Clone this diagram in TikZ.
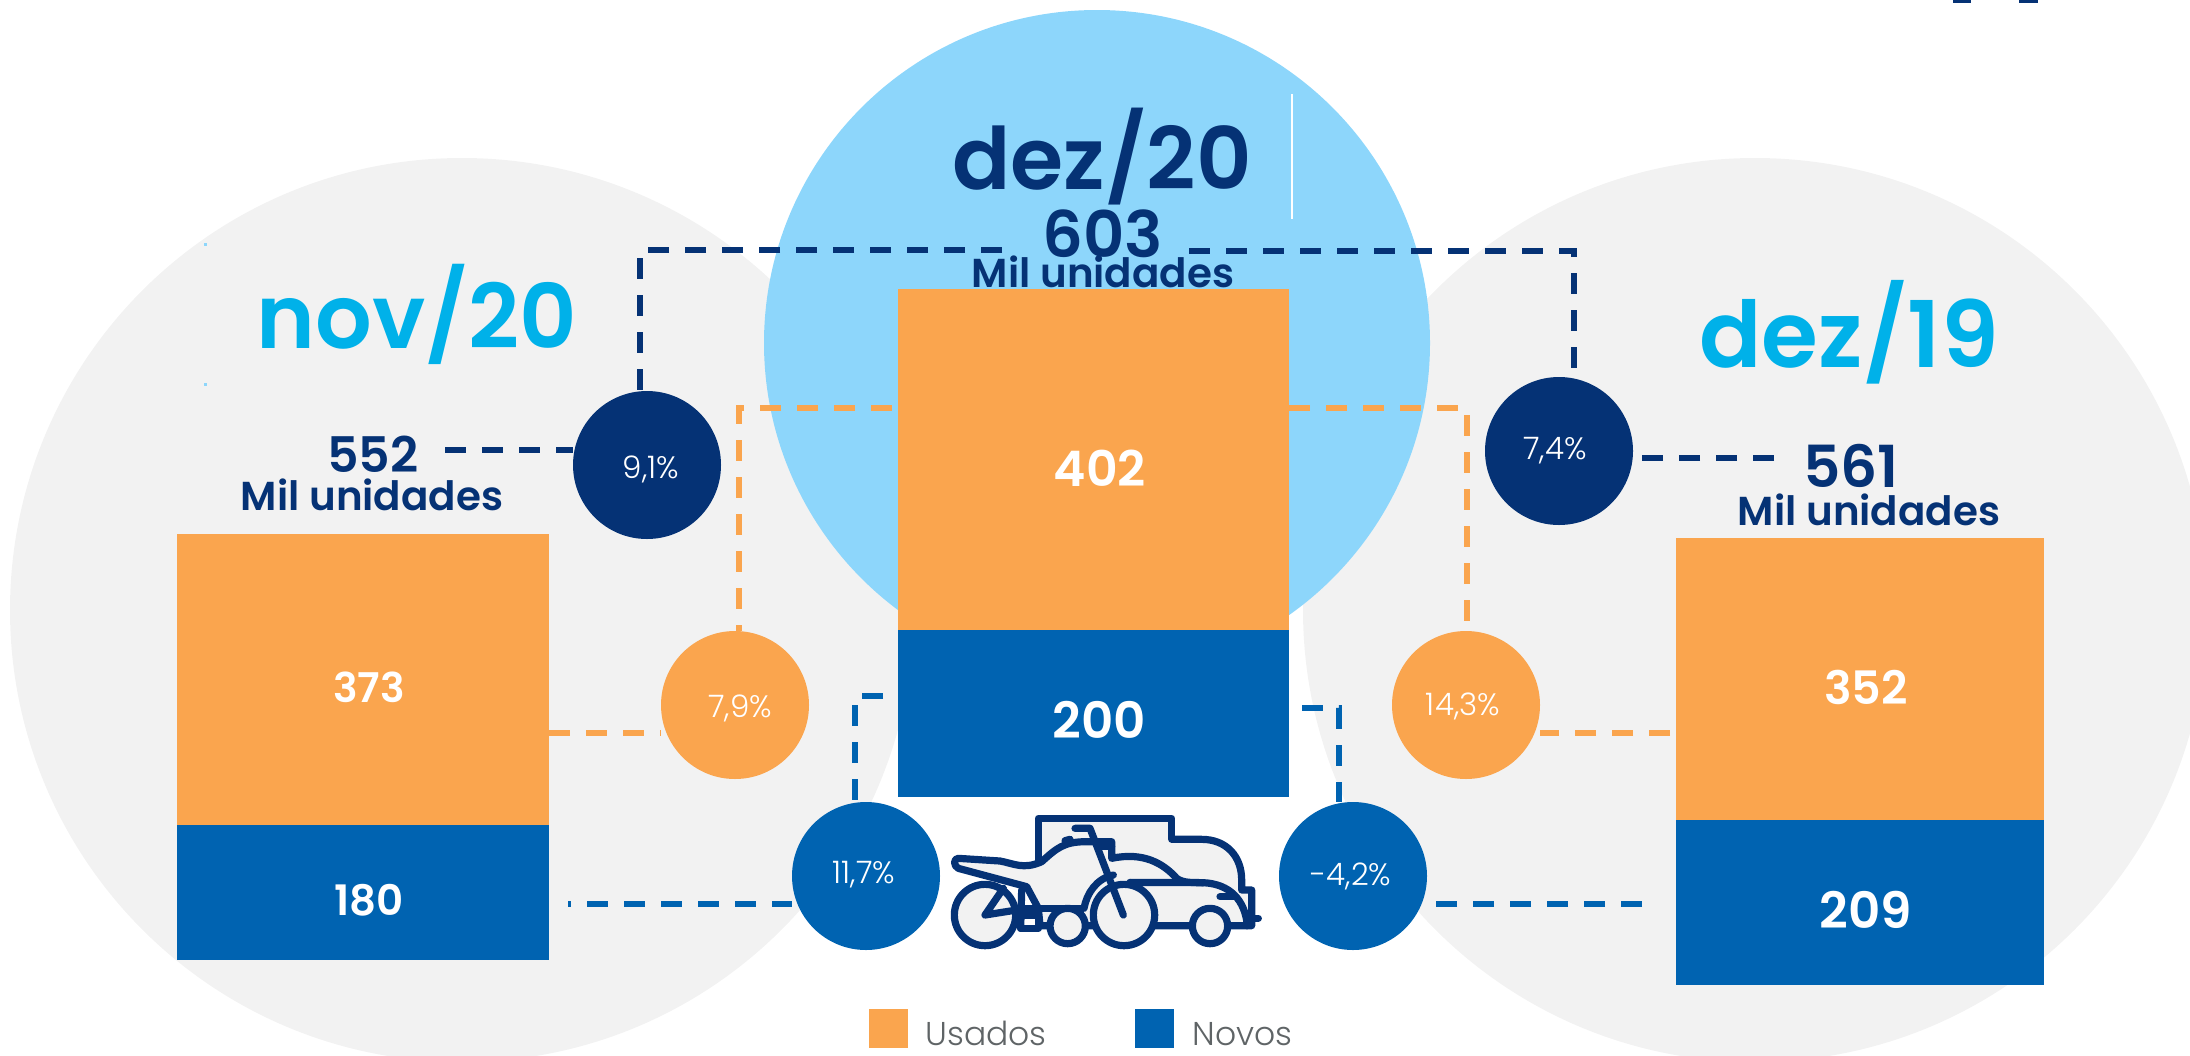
\documentclass[tikz,border=0pt]{standalone}
\usepackage{fontspec}
\setmainfont{Poppins}
\newfontfamily\psemi{Poppins SemiBold}
\newfontfamily\plight{Poppins Light}
\definecolor{laranja}{HTML}{FAA54E}
\definecolor{azul}{HTML}{0063B1}
\definecolor{marinho}{HTML}{053275}
\definecolor{ceu}{HTML}{8DD6FB}
\definecolor{cinza}{HTML}{F2F2F2}
\definecolor{ciano}{HTML}{00B1E9}
\definecolor{legenda}{HTML}{5F6466}
\tikzset{
  bar/.style={draw=none,inner sep=0pt,outer sep=0pt,rectangle,anchor=north west},
  pct/.style={circle,draw=none,minimum size=74pt,inner sep=0pt,outer sep=0pt},
  pctxt/.style={text=white,font=\plight\fontsize{15.5}{15.5}\selectfont,inner sep=0pt},
  num/.style={text=white,font=\psemi\fontsize{#1}{#1}\selectfont,inner sep=0pt},
  month/.style={font=\psemi\fontsize{#1}{#1}\selectfont,anchor=base,inner sep=0pt},
  total/.style={text=marinho,font=\psemi\fontsize{#1}{#1}\selectfont,anchor=base,inner sep=0pt},
  milu/.style={text=marinho,font=\psemi\fontsize{20.2}{20.2}\selectfont,anchor=base,inner sep=0pt},
  leg/.style={text=legenda,font=\plight\fontsize{16.5}{16.5}\selectfont,anchor=base west,inner sep=0pt},
  dashbase/.style={line width=2.75pt,dash pattern=on 10.5pt off 8pt},
  dn/.style={dashbase,draw=marinho},
  dl/.style={dashbase,draw=laranja},
  da/.style={dashbase,draw=azul},
  ico/.style={draw=marinho,line width=3.6pt,line join=round,line cap=round},
}
\begin{document}
\begin{tikzpicture}[x=0.5pt,y=-0.5pt]
\useasboundingbox (0,0) rectangle (2190,1055);
\clip (0,0) rectangle (2190,1055);
% background discs
\fill[cinza] (462,610) circle (452);
\fill[cinza] (1755,610) circle (452);
\fill[ceu] (1097,343) circle (333);
\fill[white] (1291,94) rectangle (1293,219);
\fill[ceu] (204,243) rectangle (207,246);
\fill[ceu] (204,383) rectangle (207,386);
\fill[marinho] (1953,0) rectangle (1971,3);
\fill[marinho] (2019,0) rectangle (2038,3);
% bars
\path (177,534) node[bar,minimum width=186pt,minimum height=145.5pt,fill=laranja] (b373) {};
\path (177,825) node[bar,minimum width=186pt,minimum height=67.5pt,fill=azul] (b180) {};
\path (898,289) node[bar,minimum width=195.5pt,minimum height=170.5pt,fill=laranja] (b402) {};
\path (898,630) node[bar,minimum width=195.5pt,minimum height=83.5pt,fill=azul] (b200) {};
\path (1676,538) node[bar,minimum width=184pt,minimum height=141pt,fill=laranja] (b352) {};
\path (1676,820) node[bar,minimum width=184pt,minimum height=82.5pt,fill=azul] (b209) {};
\node[num=20.5] (t373) at (369,687) {373};
\node[num=21] (t180) at (369,900) {180};
\node[num=24.5] (t402) at (1100,468) {402};
\node[num=25] (t200) at (1099,720) {200};
\node[num=23] (t352) at (1866,687) {352};
\node[num=25] (t209) at (1866,910) {209};
% titles
\node[month=44.5,text=ciano] (mnov) at (417,348) {nov/20};
\node[month=43,text=marinho] (mdez) at (1102,189) {dez/20};
\node[month=46,text=ciano] (mdezb) at (1849,367) {dez/19};
\node[total=24.5] (t552) at (373,472) {552};
\node[milu] (m552) at (372,510) {Mil unidades};
\node[total=32] (t603) at (1103,257) {603};
\node[milu] (m603) at (1103,287) {Mil unidades};
\node[total=29] (t561) at (1851,487) {561};
\node[milu] (m561) at (1869,525) {Mil unidades};
% named bends and ends
\coordinate (na) at (640,250);
\coordinate (nb) at (1002,250);
\coordinate (nc) at (1189,251);
\coordinate (nd) at (1574,251);
\coordinate (ne) at (445,450);
\coordinate (nf) at (1774,458);
\coordinate (la) at (739,408);
\coordinate (lb) at (1467,408);
\coordinate (aa) at (855,696);
\coordinate (ab) at (1339,708);
\coordinate (ac) at (568,904);
\coordinate (ad) at (1642,904);
\coordinate (la2) at (549,733);
\coordinate (lb2) at (1670,733);
% percent circles
\node[pct,fill=marinho] (p91) at (647,465) {};
\node[pct,fill=marinho] (p74) at (1559,451) {};
\node[pct,fill=laranja] (p79) at (735,705) {};
\node[pct,fill=laranja] (p143) at (1466,705) {};
\node[pct,fill=azul] (p117) at (866,876) {};
\node[pct,fill=azul] (p42) at (1353,876) {};
% connectors
\draw[dn] (nb) -- (na) -- (na |- p91.north);
\draw[dn] (nc) -- (nd) -- (nd |- p74.north);
\draw[dn] (ne) -- (ne -| p91.west);
\draw[dn] (nf) -- (nf -| p74.east);
\draw[dl] (b402.west |- la) ++(-6,0) -- (la) -- (la |- p79.north);
\draw[dl] (b402.east |- lb) -- (lb) -- (lb |- p143.north);
\draw[dl] (la2) -- (la2 -| p79.west);
\draw[dl] (lb2) -- (lb2 -| p143.east);
\draw[da] (b200.west |- aa) ++(-15,0) -- (aa) -- (aa |- p117.north);
\draw[da] (b200.east |- ab) ++(13,0) -- (ab) -- (ab |- p42.north);
\draw[da,dash phase=9pt] (ac) -- (ac -| p117.west);
\draw[da] (ad) -- (ad -| p42.east);
\node[pctxt] (x91) at (651,469) {9,1\%};
\node[pctxt] (x74) at (1555,451) {7,4\%};
\node[pctxt] (x79) at (740,708) {7,9\%};
\node[pctxt] (x143) at (1463,706) {14,3\%};
\node[pctxt] (x117) at (864,875) {11,7\%};
\node[pctxt] (x42) at (1351,876) {-4,2\%};
% icon
\begin{scope}[shift={(900,780)},x=0.16667pt,y=-0.16667pt]
\fill[cinza] (415,115) rectangle (815,300);
\draw[ico] (415,245) -- (415,115) -- (815,115) -- (815,285);
\fill[cinza] (815,178) -- (905,178) .. controls (980,178) and (1025,230) .. (1025,300) -- (1025,330) -- (1055,330) -- (1055,437) -- (800,437) -- (800,178) -- cycle;
\draw[ico] (815,178) -- (905,178) .. controls (980,178) and (1025,230) .. (1025,300) -- (1025,330) -- (1055,330) -- (1055,437) -- (1040,437);
\filldraw[ico,fill=cinza] (175,235) -- (300,243) .. controls (340,250) and (370,270) .. (425,245) .. controls (470,205) and (490,185) .. (560,185) -- (635,185) -- (635,235) .. controls (730,215) and (790,250) .. (830,295) .. controls (850,310) and (880,307) .. (910,308) .. controls (990,312) and (1035,360) .. (1042,437) -- (420,437) -- (415,385) -- (380,320) -- (175,265) .. controls (160,258) and (160,235) .. (175,235) -- cycle;
\draw[ico] (370,385) -- (545,385);
\draw[ico] (552,385) .. controls (560,340) and (590,295) .. (640,285);
\draw[ico] (690,307) -- (910,308);
\draw[ico] (1040,415) -- (1075,415);
\draw[ico] (960,350) -- (1000,350);
\draw[ico] (495,182) -- (510,178);
\draw[ico] (605,200) -- (635,200);
\filldraw[ico,fill=cinza] (255,405) circle (92);
\filldraw[ico,fill=cinza] (672,405) circle (92);
\filldraw[ico,fill=cinza] (503,438) circle (53);
\filldraw[ico,fill=cinza] (930,438) circle (53);
\draw[ico] (525,145) -- (570,145) -- (670,405);
\draw[ico] (310,325) -- (255,405) -- (350,390);
\draw[ico] (362,405) -- (415,405) -- (415,445) -- (362,445) -- cycle;
\draw[ico] (365,330) -- (362,445);
\end{scope}
% legend
\node[bar,minimum width=19.5pt,minimum height=19.5pt,fill=laranja] (lu) at (869,1009) {};
\node[bar,minimum width=19.5pt,minimum height=19.5pt,fill=azul] (ln) at (1135,1009) {};
\node[leg] (tu) at (925,1045) {Usados};
\node[leg] (tn) at (1192,1045) {Novos};
\end{tikzpicture}
\end{document}
